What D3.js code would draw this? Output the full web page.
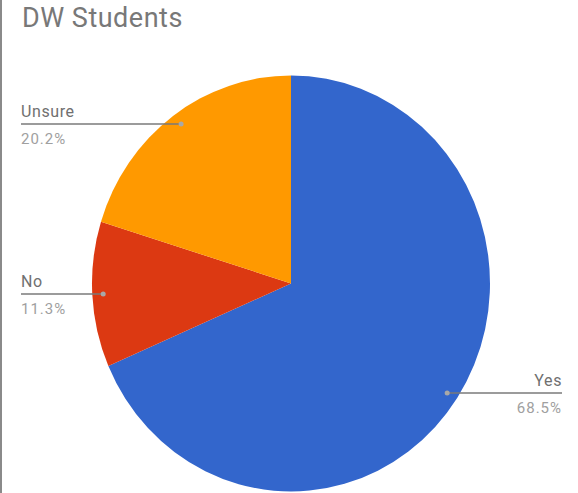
<!DOCTYPE html>
<html>
<head>
<meta charset="utf-8">
<script src="https://cdn.jsdelivr.net/npm/d3@7"></script>
<style>
  html, body { margin: 0; padding: 0; background: #fff; }
  svg { display: block; }
  text { font-family: Roboto, "Noto Sans", sans-serif; }
</style>
</head>
<body>
<div id="chart"></div>
<script>
// ---- data ----
const title = "DW Students";
const categories = ["Yes", "No", "Unsure"];
const values = [68.5, 11.3, 20.2];
const colors = ["#3366cc", "#dc3912", "#ff9900"];
const percentLabels = ["68.5%", "11.3%", "20.2%"];

// ---- layout ----
const W = 578, H = 493;
const cx = 291, cy = 283.5;
const rx = 199, ry = 208;           // reference pie is slightly stretched vertically
const labelLineY = { "Yes": 393, "No": 294, "Unsure": 124 };  // leader line rows
const dotFactor = 0.945;

const svg = d3.select("#chart").append("svg")
  .attr("width", W).attr("height", H);

svg.append("rect").attr("x", 0).attr("y", 0).attr("width", 2).attr("height", H)
  .attr("fill", "#8a8a8a");

svg.append("text")
  .attr("x", 22).attr("y", 27)
  .attr("font-size", 27)
  .attr("letter-spacing", 0.5)
  .attr("fill", "#787878")
  .text(title);

const pie = d3.pie().sort(null).value(d => d.value);
const data = categories.map((c, i) => ({ name: c, value: values[i], color: colors[i], pct: percentLabels[i] }));
const arcs = pie(data);

const arc = d3.arc().innerRadius(0).outerRadius(rx);

const g = svg.append("g")
  .attr("transform", `translate(${cx},${cy}) scale(1,${ry / rx})`);

g.selectAll("path").data(arcs).enter().append("path")
  .attr("d", arc)
  .attr("fill", d => d.data.color);

// labels
const lab = svg.append("g");
arcs.forEach(a => {
  const ly = labelLineY[a.data.name];
  const dy = ly - cy;
  const cosT = -dy / (dotFactor * ry);
  const theta = Math.acos(Math.max(-1, Math.min(1, cosT)));
  const mid = (a.startAngle + a.endAngle) / 2;
  const side = mid > Math.PI ? -1 : 1;
  const dx = side * Math.sin(theta) * dotFactor * rx;
  const dotX = cx + dx;
  const right = side > 0;
  const textX = right ? 562 : 21;

  lab.append("line")
    .attr("x1", dotX).attr("x2", textX)
    .attr("y1", ly).attr("y2", ly)
    .attr("stroke", "#7a7a7a").attr("stroke-width", 1.5);
  lab.append("circle")
    .attr("cx", dotX).attr("cy", ly).attr("r", 2.5)
    .attr("fill", "#a8a8a8");
  lab.append("text")
    .attr("x", textX).attr("y", ly - 7)
    .attr("text-anchor", right ? "end" : "start")
    .attr("font-size", 16)
    .attr("letter-spacing", 0.6)
    .attr("fill", "#707070")
    .text(a.data.name);
  lab.append("text")
    .attr("x", textX).attr("y", ly + 19.5)
    .attr("text-anchor", right ? "end" : "start")
    .attr("font-size", 15)
    .attr("letter-spacing", 1)
    .attr("fill", "#a0a0a0")
    .text(a.data.pct);
});
</script>
</body>
</html>
